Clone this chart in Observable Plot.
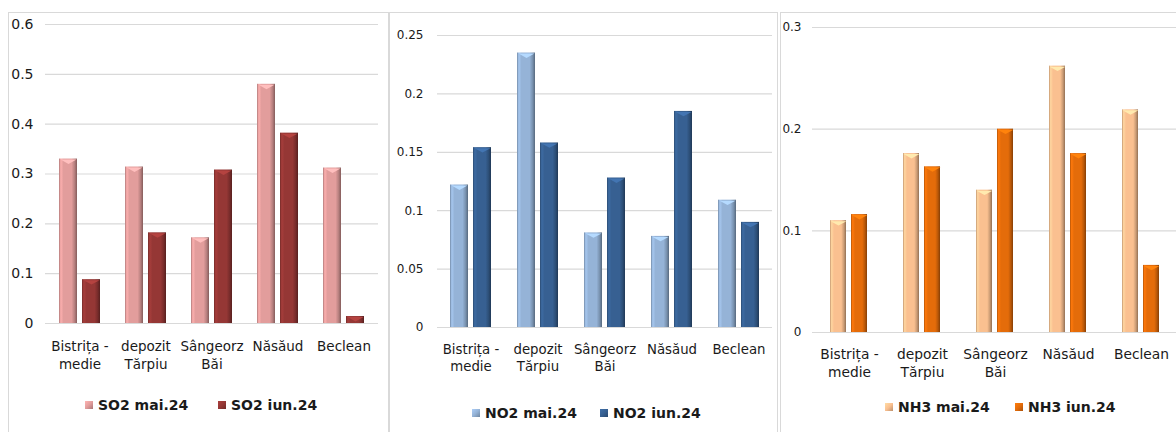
<!DOCTYPE html>
<html><head><meta charset="utf-8">
<script src="https://cdn.jsdelivr.net/npm/d3@7"></script>
<script src="https://cdn.jsdelivr.net/npm/@observablehq/plot@0.6"></script>
<style>
body{margin:0;background:#fff;font-family:"DejaVu Sans",sans-serif;}
#wrap{position:relative;width:1176px;height:432px;overflow:hidden;background:#fff;}
.box{position:absolute;border:1px solid #d9d9d9;box-sizing:border-box;pointer-events:none;}
.plot{position:absolute;}
.leg{position:absolute;display:flex;align-items:center;font-weight:bold;font-size:14px;color:#1a1a1a;white-space:nowrap;line-height:18px;}
.sw{display:inline-block;width:8px;height:8px;margin-right:5px;}
</style></head><body><div id="wrap"></div>
<script>
// ---- data ----
const categories = ["Bistrița -\nmedie", "depozit\nTărpiu", "Sângeorz\nBăi", "Năsăud", "Beclean"];
const months = ["mai.24", "iun.24"];
const so2Mai = [0.330, 0.314, 0.172, 0.480, 0.312];
const so2Iun = [0.088, 0.182, 0.308, 0.382, 0.014];
const no2Mai = [0.122, 0.235, 0.081, 0.078, 0.109];
const no2Iun = [0.154, 0.158, 0.128, 0.185, 0.090];
const nh3Mai = [0.110, 0.176, 0.140, 0.262, 0.219];
const nh3Iun = [0.116, 0.163, 0.200, 0.176, 0.066];
const so2Ticks = [0, 0.1, 0.2, 0.3, 0.4, 0.5, 0.6];
const no2Ticks = [0, 0.05, 0.1, 0.15, 0.2, 0.25];
const nh3Ticks = [0, 0.1, 0.2, 0.3];

// ---- layout / style ----
const panels = [
  {name:"SO2", mai:so2Mai, iun:so2Iun, ticks:so2Ticks, colors:["#e29d9c","#953735"],
   L:8, T:12, W:380, H:372, mt:12, mb:61, ml:37, mr:10, tickPad:12, yFont:14, xFont:13.5, xPad:15,
   fxPi:0.385, xPi:0.22, boxW:381, leg:{y:405, items:[85,218]}},
  {name:"NO2", mai:no2Mai, iun:no2Iun, ticks:no2Ticks, colors:["#95b3d7","#376092"],
   L:389, T:12, W:388, H:375, mt:23, mb:60, ml:48, mr:5, tickPad:14, yFont:12, xFont:13.3, xPad:14,
   fxPi:0.39, xPi:0.22, boxW:389, leg:{y:413, items:[472,600]}},
  {name:"NH3", mai:nh3Mai, iun:nh3Iun, ticks:nh3Ticks, colors:["#fac090","#e46c0a"],
   L:780, T:12, W:400, H:380, mt:15, mb:60, ml:32, mr:3, tickPad:11, yFont:12, xFont:13.8, xPad:14,
   fxPi:0.48, xPi:0.23, boxW:420, leg:{y:407, items:[885,1015]}}
];

const wrap = document.getElementById("wrap");
const NS = "http://www.w3.org/2000/svg";

function gradient(id, base) {
  const c = d3.color(base);
  const g = document.createElementNS(NS, "linearGradient");
  g.setAttribute("id", id);
  g.setAttribute("x1", "0"); g.setAttribute("x2", "1"); g.setAttribute("y1", "0"); g.setAttribute("y2", "0");
  const stops = [[0, c.darker(0.7)], [0.1, c.brighter(0.3)], [0.25, c], [0.7, c], [0.87, c.darker(0.6)], [1, c.darker(1.5)]];
  for (const [o, col] of stops) {
    const s = document.createElementNS(NS, "stop");
    s.setAttribute("offset", o);
    s.setAttribute("stop-color", col.formatHex());
    g.appendChild(s);
  }
  return g;
}

// flat inverted-triangle "bevel" symbol for bar tops
const chevron = {
  draw(ctx, size) {
    const r = Math.sqrt(size / Math.PI);
    ctx.moveTo(-r, 0); ctx.lineTo(r, 0); ctx.lineTo(0, r * 0.55); ctx.closePath();
  }
};

panels.forEach((p, i) => {
  const rows = [];
  categories.forEach((c, k) => {
    rows.push({cat: c, month: months[0], value: p.mai[k]});
    rows.push({cat: c, month: months[1], value: p.iun[k]});
  });
  const ids = months.map((m, j) => `g${i}_${j}`);
  const maxY = p.ticks[p.ticks.length - 1];
  const dims = {
    width: p.W, height: p.H,
    marginTop: p.mt, marginBottom: p.mb, marginLeft: p.ml, marginRight: p.mr,
    style: {fontFamily: "DejaVu Sans, sans-serif", color: "#1a1a1a", background: "transparent", overflow: "visible"},
    y: {domain: [0, maxY], axis: null}
  };

  // layer 1: grid + y axis
  const grid = Plot.plot({
    ...dims,
    marks: [
      Plot.ruleY(p.ticks, {stroke: "#d9d9d9", strokeWidth: 1.2}),
      Plot.axisY(p.ticks, {tickSize: 0, tickPadding: p.tickPad, fontSize: p.yFont, tickFormat: d => String(d), label: null})
    ]
  });

  // layer 2: grouped bars + category axis
  const marks = [];
  months.forEach((m, j) => {
    const sub = rows.filter(d => d.month === m);
    const c = d3.color(p.colors[j]);
    marks.push(Plot.barY(sub, {fx: "cat", x: "month", y: "value", fill: `url(#${ids[j]})`}));
    marks.push(Plot.dot(sub, {fx: "cat", x: "month", y: "value", symbol: chevron, r: 8, fill: c.brighter(0.55).formatHex(), stroke: "none", dy: 0.5}));
  });
  marks.push(Plot.axisFx({anchor: "bottom", tickSize: 0, tickPadding: p.xPad, fontSize: p.xFont, lineHeight: 1.3, label: null}));
  const bars = Plot.plot({
    ...dims,
    fx: {domain: categories, paddingInner: p.fxPi, paddingOuter: p.fxPi / 2, label: null},
    x: {domain: months, axis: null, paddingInner: p.xPi, paddingOuter: 0},
    marks
  });
  const defs = document.createElementNS(NS, "defs");
  months.forEach((m, j) => defs.appendChild(gradient(ids[j], p.colors[j])));
  bars.insertBefore(defs, bars.firstChild);

  for (const svg of [grid, bars]) {
    svg.classList.add("plot");
    svg.style.left = p.L + "px";
    svg.style.top = p.T + "px";
    wrap.appendChild(svg);
  }

  const box = document.createElement("div");
  box.className = "box";
  box.style.left = p.L + "px"; box.style.top = p.T + "px";
  box.style.width = p.boxW + "px"; box.style.height = "440px";
  wrap.appendChild(box);

  months.forEach((m, j) => {
    const it = document.createElement("div");
    it.className = "leg";
    it.style.left = p.leg.items[j] + "px";
    it.style.top = (p.leg.y - 9) + "px";
    const sw = document.createElement("span");
    sw.className = "sw";
    const c = d3.color(p.colors[j]);
    sw.style.background = `linear-gradient(135deg, ${c.brighter(0.4).formatHex()}, ${c.formatHex()} 50%, ${c.darker(0.8).formatHex()})`;
    it.appendChild(sw);
    it.appendChild(document.createTextNode(`${p.name} ${m}`));
    wrap.appendChild(it);
  });
});
</script></body></html>
